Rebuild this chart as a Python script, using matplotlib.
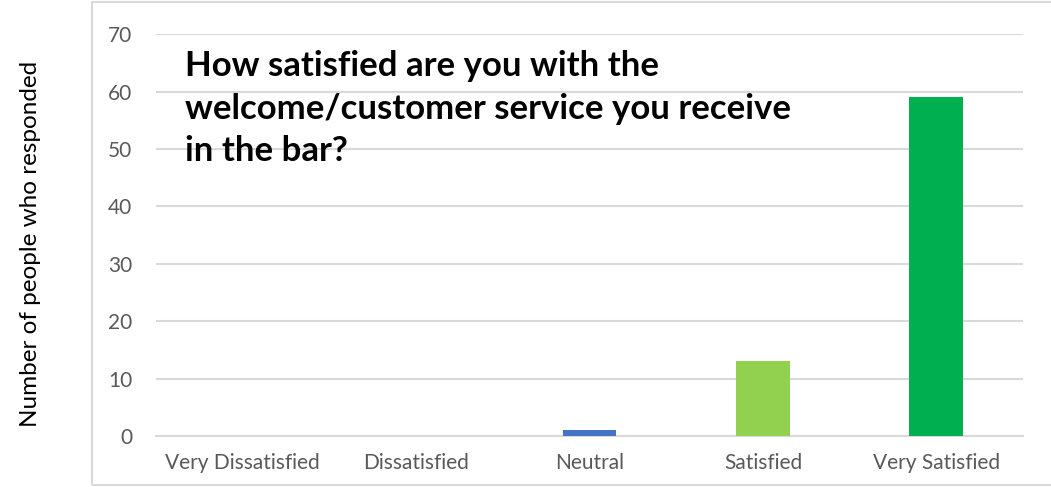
import matplotlib
matplotlib.use("Agg")
import matplotlib.pyplot as plt
from matplotlib.patches import Rectangle

categories = ["Very Dissatisfied", "Dissatisfied", "Neutral", "Satisfied", "Very Satisfied"]
responses = [0, 0, 1, 13, 59]
bar_colors = ["#4472C4", "#4472C4", "#4472C4", "#92D050", "#00B050"]
yticks = [0, 10, 20, 30, 40, 50, 60, 70]
title = "How satisfied are you with the\nwelcome/customer service you receive\nin the bar?"

plt.rcParams["font.family"] = ["Lato", "DejaVu Sans"]

fig = plt.figure(figsize=(10.51, 4.87), dpi=100)
ax = fig.add_axes([0.1484, 0.1047, 0.8250, 0.8253])

x = range(len(categories))
ax.bar(x, responses, width=0.31, color=bar_colors, zorder=3)

ax.set_xlim(-0.5, len(categories) - 0.5)
ax.set_ylim(0, 70)
ax.set_yticks(yticks)
ax.set_xticks(list(x))
ax.set_xticklabels(categories)
ax.grid(axis="y", color="#d9d9d9", lw=1.5, zorder=0)
ax.tick_params(axis="both", length=0, colors="#595959", labelsize=15)
ax.tick_params(axis="y", pad=17)
ax.tick_params(axis="x", pad=12)
for s in ("top", "right", "left"):
    ax.spines[s].set_visible(False)
ax.spines["bottom"].set_color("#d9d9d9")
ax.spines["bottom"].set_linewidth(1.5)

ax.text(0.033, 0.96, title, transform=ax.transAxes, ha="left", va="top",
        fontsize=25, fontweight="bold", color="black", linespacing=1.4, zorder=5)

fig.text(0.029, 0.50, "Number of people who responded", rotation=90,
         ha="center", va="center", fontsize=17.5, color="black")

# light frame around the chart area
fig.patches.append(Rectangle((92 / 1051, 2 / 487), 1.0, 483 / 487,
                             transform=fig.transFigure, fill=False,
                             edgecolor="#d9d9d9", lw=1.5))

fig.savefig("out.png", dpi=100)
